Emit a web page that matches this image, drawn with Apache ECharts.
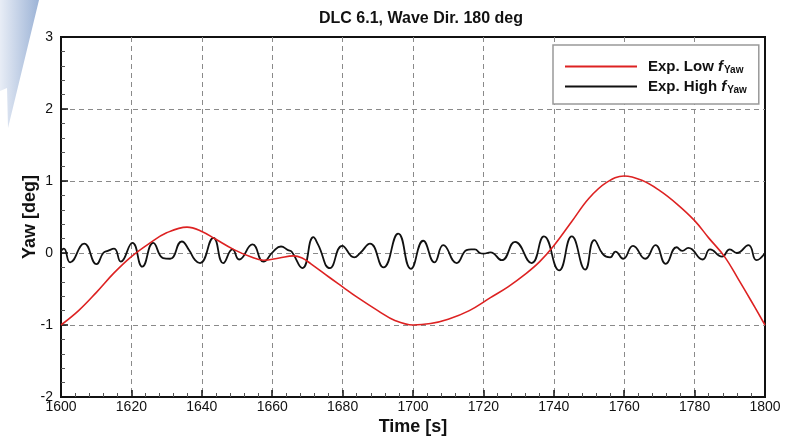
<!DOCTYPE html>
<html>
<head>
<meta charset="utf-8">
<script src="https://cdn.jsdelivr.net/npm/echarts@6/dist/echarts.min.js"></script>
<style>
  html, body { margin: 0; padding: 0; background: #fff; }
  #main { width: 796px; height: 441px; }
</style>
</head>
<body>
<div id="main"></div>
<script>
// Exp. Low f_Yaw (slow yaw response)
var lowTime = [1600, 1605, 1610, 1615, 1620, 1625, 1630, 1635.8, 1640, 1644, 1649, 1653.7, 1657.5, 1662, 1666, 1668.5,
  1671, 1676, 1680, 1684, 1690, 1695, 1700, 1705, 1710, 1716, 1722, 1727, 1732, 1736, 1740, 1745, 1750, 1755, 1760,
  1765, 1770, 1775, 1780, 1784, 1788.5, 1792.5, 1796, 1800];
var lowYaw = [-1.0, -0.8, -0.55, -0.28, -0.05, 0.13, 0.28, 0.36, 0.3, 0.19, 0.05, -0.05, -0.1, -0.07, -0.04, -0.07,
  -0.15, -0.33, -0.47, -0.61, -0.8, -0.94, -1.0, -0.98, -0.92, -0.8, -0.62, -0.47, -0.29, -0.12, 0.1, 0.43, 0.76, 0.98, 1.07,
  1.01, 0.87, 0.68, 0.45, 0.21, -0.05, -0.37, -0.66, -1.0];

// Exp. High f_Yaw (fast oscillation)
var highTime = [1600, 1600.8, 1602.6, 1606.6, 1610.1, 1612, 1613.3, 1615.1, 1617, 1620.3, 1623.1, 1626.2, 1629, 1631,
  1634.3, 1636.5, 1638.1, 1639.5, 1643.3, 1646.1, 1648.7, 1650.6, 1654.4, 1657.5, 1660.3, 1662.5, 1664.5, 1665.5,
  1668.6, 1671.7, 1673, 1676.4, 1679.9, 1683.3, 1685, 1687.8, 1691.6, 1695.8, 1699.4, 1702.9, 1706.1, 1708.6,
  1712.4, 1715.2, 1716.5, 1717.6, 1719, 1720, 1722, 1725.2, 1729, 1733.7, 1737.2, 1741.5, 1745.1, 1748.9, 1751.5,
  1754, 1756, 1757.5, 1759.7, 1762.5, 1766, 1768.9, 1771.8, 1774.9, 1776.5, 1778.2, 1782.3, 1784.4, 1787.8, 1790,
  1792, 1795.3, 1797.6, 1800];
var highYaw = [0.03, 0.06, -0.13, 0.13, -0.155, 0.0, 0.03, 0.06, -0.12, 0.14, -0.19, 0.14, -0.07, -0.08,
  0.16, 0.03, -0.1, -0.14, 0.21, -0.14, 0.05, -0.09, 0.12, -0.12, 0.02, 0.09, 0.04, 0.02,
  -0.21, 0.22, 0.12, -0.21, 0.1, -0.06, 0.0, 0.13, -0.2, 0.27, -0.22, 0.17, -0.13, 0.11,
  -0.14, 0.04, 0.05, 0.05, 0.0, -0.01, 0.01, -0.1, 0.155, -0.14, 0.23, -0.24, 0.23, -0.23, 0.18,
  -0.02, -0.06, 0.02, -0.08, 0.1, -0.08, 0.11, -0.15, 0.08, 0.03, 0.07, -0.09, 0.05, -0.05, 0.05,
  0.0, 0.11, -0.1, 0.0];

var seriesNames = ['Exp. Low', 'Exp. High'];

function pairs (t, v) {
  var out = [];
  for (var i = 0; i < t.length; i++) {
    out.push([t[i], v[i]]);
  }
  return out;
}

var myChart = echarts.init(document.getElementById('main'));

var font = '"Liberation Sans", Arial, sans-serif';

var option = {
  animation: false,
  backgroundColor: '#fff',
  title: {
    text: 'DLC 6.1, Wave Dir. 180 deg',
    left: 416,
    textAlign: 'center',
    top: 6,
    textStyle: { fontFamily: font, fontSize: 16, fontWeight: 'bold', color: '#111' }
  },
  // slide decoration in the corner
  graphic: [{
    type: 'polygon',
    z: -10,
    shape: { points: [[0, 0], [39, 0], [8, 128], [7, 88], [0, 91]] },
    style: {
      fill: new echarts.graphic.LinearGradient(0, 0, 1, 0, [
        { offset: 0, color: '#e8edf6' },
        { offset: 1, color: '#9cb3d6' }
      ])
    }
  }],
  legend: {
    orient: 'vertical',
    left: 553,
    top: 45,
    padding: [14, 12, 9, 12],
    itemGap: 4,
    itemWidth: 72,
    itemHeight: 2,
    icon: 'rect',
    backgroundColor: '#fff',
    borderColor: '#999',
    borderWidth: 1.5,
    borderRadius: 0,
    data: seriesNames,
    formatter: function (name) {
      return '{b|' + name + ' }{i|f}{s|Yaw}';
    },
    textStyle: {
      fontFamily: font,
      color: '#111',
      rich: {
        b: { fontFamily: font, fontSize: 15, fontWeight: 'bold', color: '#111', padding: [0, 0, 0, 6] },
        i: { fontFamily: font, fontSize: 15, fontWeight: 'bold', fontStyle: 'italic', color: '#111' },
        s: { fontFamily: font, fontSize: 10, fontWeight: 'bold', color: '#111', padding: [7, 0, 0, 1] }
      }
    }
  },
  grid: {
    left: 61,
    right: 31,
    top: 37,
    bottom: 40,
    show: true,
    borderColor: '#111',
    borderWidth: 2,
    backgroundColor: 'transparent'
  },
  xAxis: {
    type: 'value',
    min: 1600,
    max: 1800,
    interval: 20,
    name: 'Time [s]',
    nameLocation: 'middle',
    nameGap: 21,
    nameMoveOverlap: false,
    nameTextStyle: { fontFamily: font, fontSize: 18, fontWeight: 'bold', color: '#111' },
    axisLine: { onZero: false, lineStyle: { color: '#111', width: 2 } },
    axisTick: { inside: true, length: 7, lineStyle: { color: '#111', width: 1.5 } },
    minorTick: { show: true, splitNumber: 5, length: 4, lineStyle: { color: '#555', width: 1 } },
    axisLabel: {
      fontFamily: font, fontSize: 14, color: '#111', margin: 3,
      formatter: function (v) { return String(v); }
    },
    splitLine: { show: true, showMinLine: false, showMaxLine: false, lineStyle: { color: '#8a8a8a', type: [5, 4], width: 1 } }
  },
  yAxis: {
    type: 'value',
    min: -2,
    max: 3,
    interval: 1,
    name: 'Yaw [deg]',
    nameLocation: 'middle',
    nameGap: 22,
    nameMoveOverlap: false,
    nameTextStyle: { fontFamily: font, fontSize: 18, fontWeight: 'bold', color: '#111' },
    axisLine: { show: true, onZero: false, lineStyle: { color: '#111', width: 2 } },
    axisTick: { show: true, inside: true, length: 7, lineStyle: { color: '#111', width: 1.5 } },
    minorTick: { show: true, splitNumber: 5, length: 4, lineStyle: { color: '#555', width: 1 } },
    axisLabel: { fontFamily: font, fontSize: 14, color: '#111', margin: 8 },
    splitLine: { show: true, showMinLine: false, showMaxLine: false, lineStyle: { color: '#8a8a8a', type: [5, 4], width: 1 } }
  },
  series: [{
    name: seriesNames[0],
    type: 'line',
    data: pairs(lowTime, lowYaw),
    smooth: 0.4,
    showSymbol: false,
    color: '#dd2222',
    lineStyle: { color: '#dd2222', width: 1.6 },
    z: 3
  }, {
    name: seriesNames[1],
    type: 'line',
    data: pairs(highTime, highYaw),
    smooth: 0.5,
    showSymbol: false,
    color: '#111',
    lineStyle: { color: '#111', width: 1.8 },
    z: 2
  }]
};

myChart.setOption(option);
window.addEventListener('resize', function () {
  myChart.resize();
});
</script>
</body>
</html>
